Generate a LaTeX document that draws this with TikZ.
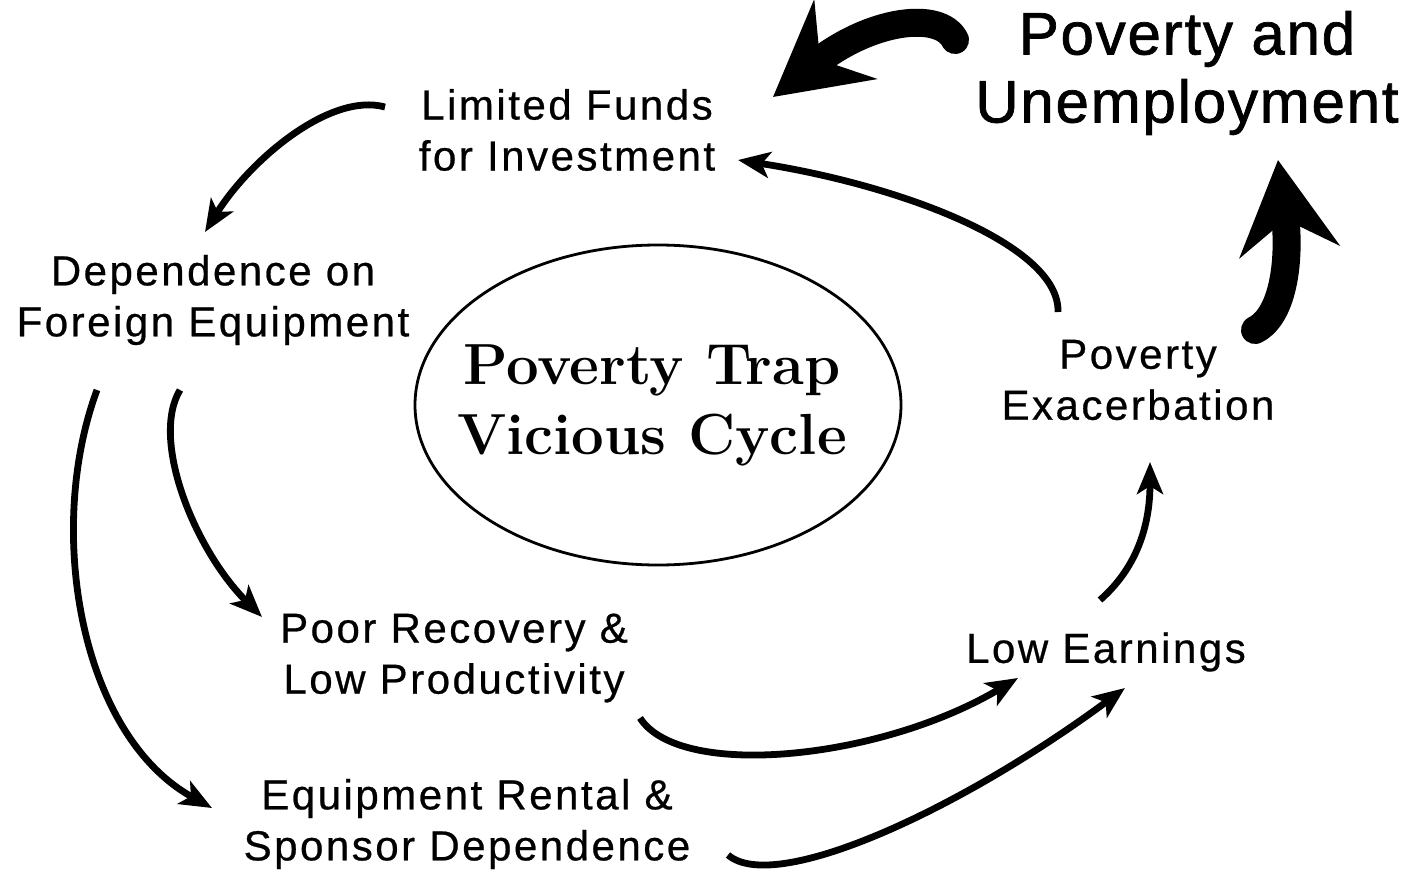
\documentclass[tikz,border=0pt]{standalone}
\usepackage{fontspec}
\newfontfamily\labelfont[LetterSpace=6,FakeBold=0.6]{Liberation Sans}
\newfontfamily\bigfont[LetterSpace=3,FakeBold=1.2]{Liberation Sans}
\usetikzlibrary{arrows.meta}
\begin{document}
\begin{tikzpicture}[x=0.5pt,y=-0.5pt,
  lbl/.style={font=\labelfont\fontsize{21}{25.5}\selectfont, align=center, inner sep=0pt},
  biglbl/.style={font=\bigfont\fontsize{30}{34}\selectfont, align=center, inner sep=0pt},
  traptext/.style={font=\bfseries\fontsize{29}{35}\selectfont, align=center, inner sep=0pt},
  conn/.style={line width=3.4pt, -{Stealth[length=16pt,width=13pt,inset=4pt]}},
  bigarrow/.style={line width=14pt, line cap=round, -{Stealth[length=46pt,width=50pt,inset=16pt]}}]
\useasboundingbox (0,0) rectangle (1414,878);

% labels
\node[lbl] (funds) at (567,130) {Limited Funds\\for Investment};
\node[lbl] (dep) at (213,300) {Dependence on\\Foreign Equipment};
\node[lbl] (poor) at (454,658) {Poor Recovery \&\\Low Productivity};
\node[lbl] (rent) at (467,824) {Equipment Rental \&\\Sponsor Dependence};
\node[lbl] (earn) at (1106,652) {Low Earnings};
\node[lbl] (exac) at (1138,380) {Poverty\\Exacerbation};
\node[biglbl] (unemp) at (1187,73) {Poverty and\\Unemployment};
\node[traptext] (trap) at (652,405) {Poverty Trap\\Vicious Cycle};
\draw[line width=1.4pt] (658,405) ellipse [x radius=121.5pt, y radius=80pt];

% connector ends
\coordinate (a1s) at (385,107);  \coordinate (a1e) at (205,232);
\coordinate (a2s) at (97,390);   \coordinate (a2e) at (212,808);
\coordinate (a3s) at (180,390);  \coordinate (a3e) at (262,617);
\coordinate (a4s) at (640,718);  \coordinate (a4e) at (1018,678);
\coordinate (a5s) at (728,855);  \coordinate (a5e) at (1125,688);
\coordinate (a6s) at (1100,600); \coordinate (a6e) at (1150,462);
\coordinate (a7s) at (1058,312); \coordinate (a7e) at (738,160);
\coordinate (b1s) at (955,40);   \coordinate (b1e) at (773,97);
\coordinate (b2s) at (1255,330); \coordinate (b2e) at (1278,160);

% thin connectors
\draw[conn] (a1s) .. controls (330,92) and (250,160) .. (a1e);
\draw[conn] (a2s) .. controls (45,530) and (80,735) .. (a2e);
\draw[conn] (a3s) .. controls (150,440) and (195,550) .. (a3e);
\draw[conn] (a4s) .. controls (680,780) and (880,760) .. (a4e);
\draw[conn] (a5s) .. controls (775,895) and (960,810) .. (a5e);
\draw[conn] (a6s) .. controls (1140,565) and (1150,520) .. (a6e);
\draw[conn] (a7s) .. controls (1060,245) and (900,185) .. (a7e);

% thick arrows
\draw[bigarrow] (b1s) .. controls (940,10) and (870,20) .. (b1e);
\draw[bigarrow] (b2s) .. controls (1285,315) and (1290,255) .. (b2e);
\end{tikzpicture}
\end{document}
